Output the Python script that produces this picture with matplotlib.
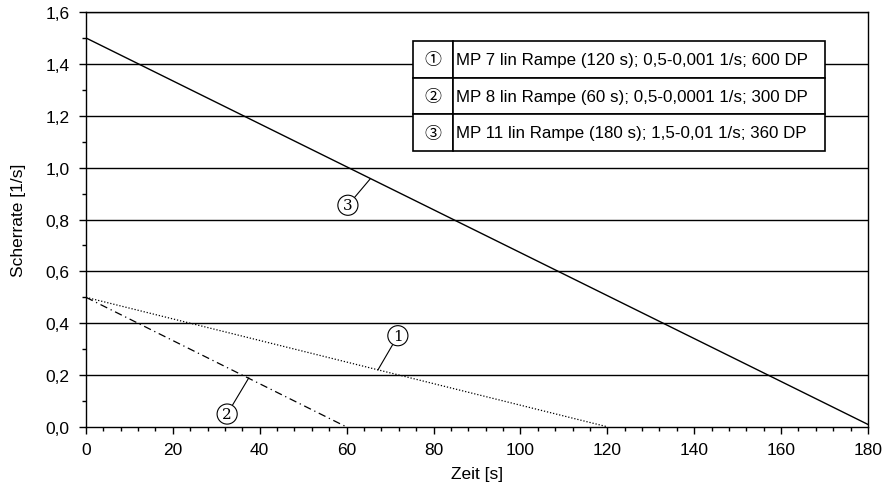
import matplotlib
matplotlib.use("Agg")
import matplotlib.pyplot as plt
from matplotlib.ticker import MultipleLocator, FuncFormatter

plt.rcParams['font.family'] = ['Liberation Sans', 'Noto Sans CJK JP', 'DejaVu Sans']

# Rampen: Start/Ende Zeit und Scherrate
t1 = [0, 120]
g1 = [0.5, 0.001]
t2 = [0, 60]
g2 = [0.5, 0.0001]
t3 = [0, 180]
g3 = [1.5, 0.01]

nummern = ['\u2460', '\u2461', '\u2462']
beschriftung = ['MP 7 lin Rampe (120 s); 0,5-0,001 1/s; 600 DP',
                'MP 8 lin Rampe (60 s); 0,5-0,0001 1/s; 300 DP',
                'MP 11 lin Rampe (180 s); 1,5-0,01 1/s; 360 DP']

fig = plt.figure(figsize=(8.88, 4.89), dpi=100)
ax = fig.add_axes([0.0968, 0.1247, 0.8806, 0.8487])

for y in [0.2, 0.4, 0.6, 0.8, 1.0, 1.2, 1.4, 1.6]:
    ax.axhline(y, color='black', lw=1.0, zorder=1)

ax.plot(t1, g1, color='black', lw=0.9, dashes=(1, 1.5), zorder=2)
ax.plot(t2, g2, color='black', lw=0.9, dashes=(6, 3, 1, 3), zorder=2)
ax.plot(t3, g3, color='black', lw=1.0, zorder=2)

ax.set_xlim(0, 180)
ax.set_ylim(0, 1.6)
ax.xaxis.set_major_locator(MultipleLocator(20))
ax.xaxis.set_minor_locator(MultipleLocator(4))
ax.yaxis.set_major_locator(MultipleLocator(0.2))
ax.yaxis.set_minor_locator(MultipleLocator(0.1))
ax.yaxis.set_major_formatter(FuncFormatter(lambda v, p: f"{v:.1f}".replace('.', ',')))
ax.tick_params(which='major', direction='out', length=5, width=1, labelsize=12.5, colors='black')
ax.tick_params(which='minor', direction='out', length=3, width=1)
ax.tick_params(axis='x', which='major', pad=6)
ax.tick_params(axis='y', which='major', pad=7)
for s in ax.spines.values():
    s.set_linewidth(1.0)
ax.set_xlabel('Zeit [s]', fontsize=12.5, labelpad=6)
ax.set_ylabel('Scherrate [1/s]', fontsize=12.5, labelpad=14)

# Kreisnummern an den Kurven
kreis = dict(boxstyle='circle,pad=0.2', fc='white', ec='black', lw=0.8)
pfeil = dict(arrowstyle='-', lw=0.8, color='black', shrinkA=0, shrinkB=0)
ax.annotate('1', xy=(67.2, 0.22), xytext=(71.8, 0.352), bbox=kreis, arrowprops=pfeil,
            ha='center', va='center', fontsize=11, family='DejaVu Serif')
ax.annotate('2', xy=(37.5, 0.19), xytext=(32.5, 0.05), bbox=kreis, arrowprops=pfeil,
            ha='center', va='center', fontsize=11, family='DejaVu Serif')
ax.annotate('3', xy=(65.5, 0.958), xytext=(60.3, 0.855), bbox=kreis, arrowprops=pfeil,
            ha='center', va='center', fontsize=11, family='DejaVu Serif')

# Legende als Tabelle
tab = ax.table(cellText=[[n, b] for n, b in zip(nummern, beschriftung)],
               colWidths=[0.051, 0.476], cellLoc='left',
               bbox=[0.418, 0.665, 0.527, 0.265], zorder=5)
tab.auto_set_font_size(False)
for (r, c), cell in tab.get_celld().items():
    cell.set_linewidth(1.2)
    cell.set_facecolor('white')
    cell.get_text().set_fontsize(12.2)
    if c == 0:
        cell.get_text().set_ha('center')
        cell._loc = 'center'
        cell.get_text().set_family(['Noto Sans CJK JP', 'DejaVu Sans'])
    else:
        cell.PAD = 0.01

fig.savefig('out.png', dpi=100)
